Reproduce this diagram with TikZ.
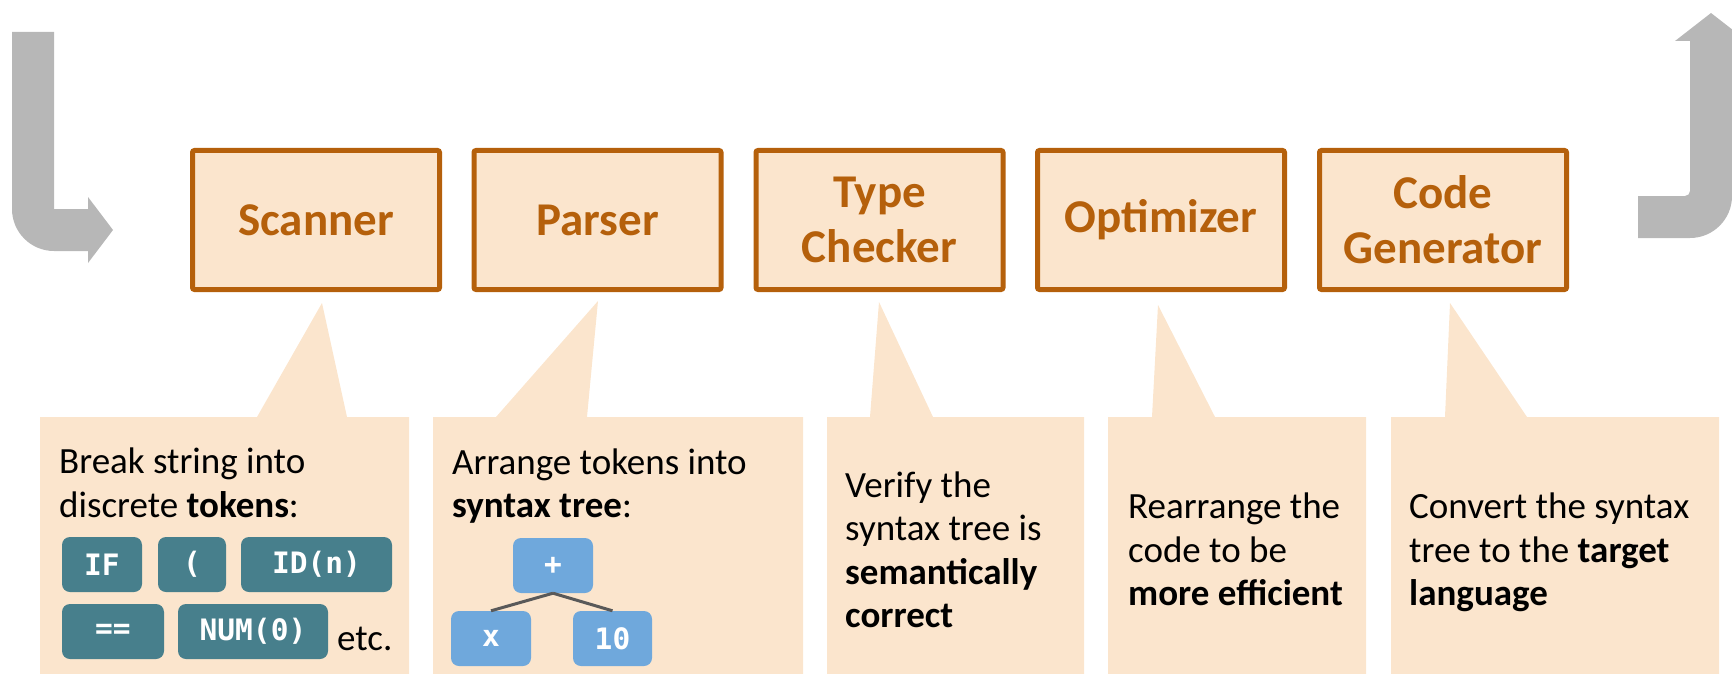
\documentclass[tikz,border=0pt]{standalone}
\usepackage{fontspec}
\setmainfont{Carlito}
\newfontfamily\tokfont{DejaVu Sans Mono}
\definecolor{boxfill}{HTML}{FBE5CD}
\definecolor{boxline}{HTML}{B5600B}
\definecolor{tokteal}{HTML}{477F8C}
\definecolor{treeblue}{HTML}{6FA8DC}
\definecolor{treeline}{HTML}{595959}
\definecolor{arrowgray}{HTML}{B7B7B7}
\tikzset{
  stage/.style={draw=boxline, line width=5pt, fill=boxfill, rounded corners=2pt,
    minimum width=247pt, minimum height=139pt, inner sep=0pt, align=center,
    text=boxline, font=\bfseries\fontsize{47}{55}\selectfont},
  callout/.style={fill=boxfill},
  note/.style={anchor=base west, inner sep=0pt, font=\fontsize{37}{44}\selectfont},
  tok/.style={fill=tokteal, rounded corners=8pt, minimum height=55pt, inner sep=0pt,
    text=white, font=\tokfont\bfseries\fontsize{29.5}{29.5}\selectfont},
  treenode/.style={tok, fill=treeblue},
  branch/.style={draw=treeline, line width=3pt},
}
\begin{document}
\begin{tikzpicture}[x=1pt,y=-1pt]
\useasboundingbox (0,0) rectangle (1732,674);

% loop arrows into and out of the pipeline
\fill[arrowgray] (12,32) -- (54,32) -- (54,209) -- (88,209) -- (88,197) -- (113,230)
  -- (88,263) -- (88,251) -- (54,251) arc[start angle=90,end angle=180,radius=42] -- cycle;
\fill[arrowgray] (1638,196) -- (1685,196) arc[start angle=90,end angle=0,radius=5]
  -- (1690,41) -- (1675,41) -- (1711,13) -- (1747,41) -- (1732,41) -- (1732,196)
  arc[start angle=0,end angle=90,radius=42] -- (1638,238) -- cycle;

% pipeline stages
\node[stage] (scanner) at (316,220) {Scanner};
\node[stage] (parser) at (597.5,220) {Parser};
\node[stage] (checker) at (879.5,220) {Type\\Checker};
\node[stage] (optimizer) at (1161,220) {Optimizer};
\node[stage] (codegen) at (1443,220) {Code\\Generator};

% speech-bubble callouts
\fill[callout] (40,417) -- (257,417) -- (322,303) -- (347,417) -- (409,417) -- (409,674) -- (40,674) -- cycle;
\fill[callout] (433,417) -- (496,417) -- (598,301) -- (587,417) -- (803,417) -- (803,674) -- (433,674) -- cycle;
\fill[callout] (827,417) -- (870,417) -- (879,302) -- (933,417) -- (1084,417) -- (1084,674) -- (827,674) -- cycle;
\fill[callout] (1108,417) -- (1152,417) -- (1158,305) -- (1215,417) -- (1366,417) -- (1366,674) -- (1108,674) -- cycle;
\fill[callout] (1391,417) -- (1445,417) -- (1450,303) -- (1527,417) -- (1719,417) -- (1719,674) -- (1391,674) -- cycle;

% scanner
\node[note] (s1) at (59,473) {Break string into};
\node[note] (s2) at (59,517) {discrete \textbf{tokens}:};
\node[tok, minimum width=80pt] (tif) at (102,564.5) {IF};
\node[tok, minimum width=68pt] (tpar) at (192,564.5) {(};
\node[tok, minimum width=151pt] (tid) at (316.5,564.5) {ID(n)};
\node[tok, minimum width=102pt] (teq) at (113,631.5) {==};
\node[tok, minimum width=150pt] (tnum) at (253,631.5) {NUM(0)};
\node[note] (etc) at (337,650) {etc.};

% parser
\node[note] (p1) at (452,474) {Arrange tokens into};
\node[note] (p2) at (452,517) {\textbf{syntax tree}:};
\node[treenode, minimum width=80pt] (plus) at (553,565.5) {+};
\node[treenode, minimum width=80pt] (leafx) at (491,638.5) {x};
\node[treenode, minimum width=79pt] (leaften) at (612.5,638.5) {10};
\draw[branch] (plus.south) -- (leafx.north);
\draw[branch] (plus.south) -- (leaften.north);

% type checker
\node[note] (c1) at (845,497) {Verify the};
\node[note] (c2) at (845,540) {syntax tree is};
\node[note] (c3) at (845,584) {\textbf{semantically}};
\node[note] (c4) at (845,627) {\textbf{correct}};

% optimizer
\node[note] (o1) at (1128,518) {Rearrange the};
\node[note] (o2) at (1128,562) {code to be};
\node[note] (o3) at (1128,605) {\textbf{more efficient}};

% code generator
\node[note] (g1) at (1409,518) {Convert the syntax};
\node[note] (g2) at (1409,562) {tree to the \textbf{target}};
\node[note] (g3) at (1409,605) {\textbf{language}};
\end{tikzpicture}
\end{document}
